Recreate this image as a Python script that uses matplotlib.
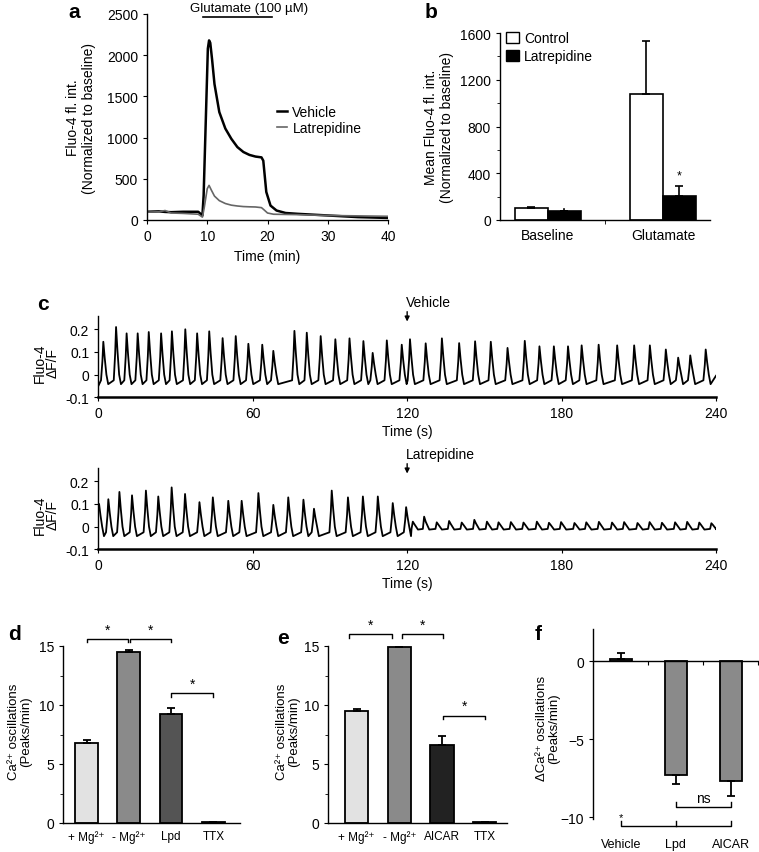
import matplotlib
matplotlib.use('Agg')
import matplotlib.pyplot as plt
from matplotlib.lines import Line2D
from matplotlib.patches import Patch
from matplotlib.ticker import MultipleLocator

plt.rcParams['font.family'] = ['Liberation Sans', 'DejaVu Sans']
plt.rcParams['font.size'] = 10
plt.rcParams['axes.linewidth'] = 1.0
plt.rcParams['xtick.major.size'] = 3
plt.rcParams['ytick.major.size'] = 3
plt.rcParams['xtick.minor.size'] = 2
plt.rcParams['ytick.minor.size'] = 2

# ---------------- data ----------------
# a: Fluo-4 time course (min)
a_time_veh = [0, 2, 3, 4, 6, 8.5, 9.2, 9.4, 10.1, 10.3, 10.5, 10.8, 11.2, 12, 13, 14, 15, 16,
              17, 18, 19, 19.3, 19.8, 20.5, 21.5, 23, 25, 30, 35, 40]
a_vehicle = [100, 105, 98, 95, 100, 100, 55, 300, 2080, 2180, 2150, 1950, 1650, 1310, 1110,
             985, 885, 825, 790, 770, 760, 720, 340, 175, 115, 85, 75, 55, 35, 25]
a_time_lat = [0, 2, 3, 4, 6, 8.5, 9.2, 9.5, 10.0, 10.3, 10.7, 11.2, 12, 13, 14, 15, 16, 17,
              18, 19, 19.4, 20, 21, 25, 30, 35, 40]
a_latrepidine = [95, 100, 115, 85, 80, 70, 35, 150, 380, 420, 360, 290, 235, 200, 180, 170,
                 163, 160, 158, 150, 125, 85, 70, 65, 55, 50, 45]

# b: mean Fluo-4
b_groups = ['Baseline', 'Glutamate']
b_control = [100, 1080]
b_control_err = [8, 450]
b_latre = [80, 208]
b_latre_err = [10, 86]

# c: Ca2+ oscillation peaks (time s, dF/F)
veh_peak_t = [1.95, 6.9, 11.0, 15.3, 19.6, 24.4, 28.6, 33.8, 38.4, 43.1, 48.3, 53.4, 58.3,
              63.7, 68.0, 76.2, 81.0, 86.4, 92.1, 97.6, 103.0, 106.6, 112.1, 117.9, 121.1,
              127.2, 133.5, 140.2, 146.4, 152.5, 159.0, 165.7, 171.4, 177.0, 182.5, 187.8,
              194.4, 201.6, 208.2, 214.3, 220.5, 225.3, 230.0, 236.0]
veh_peak_v = [0.145, 0.21, 0.182, 0.182, 0.188, 0.182, 0.191, 0.2, 0.182, 0.191, 0.161, 0.17,
              0.136, 0.132, 0.105, 0.193, 0.185, 0.17, 0.156, 0.16, 0.148, 0.096, 0.151, 0.132,
              0.156, 0.138, 0.16, 0.139, 0.147, 0.145, 0.118, 0.149, 0.125, 0.125, 0.125,
              0.129, 0.132, 0.129, 0.129, 0.129, 0.111, 0.075, 0.085, 0.111]
lat_peak_t = [0.3, 3.9, 8.2, 13.1, 18.5, 23.3, 28.5, 33.7, 39.3, 44.5, 50.5, 55.7, 62.2, 68.0,
              73.8, 79.7, 83.8, 90.7, 97.0, 102.8, 108.6, 114.4, 119.6, 122.2, 126.6, 131.5,
              136.3, 141.2, 146.1, 151.0, 155.5, 160.3, 165.2, 170.4, 175.1, 179.8, 185.0,
              189.6, 194.5, 199.6, 204.3, 209.5, 214.2, 219.0, 224.1, 228.8, 233.5, 238.2]
lat_peak_v = [0.10, 0.121, 0.153, 0.138, 0.159, 0.133, 0.173, 0.144, 0.108, 0.129, 0.114,
              0.114, 0.148, 0.096, 0.129, 0.119, 0.079, 0.159, 0.129, 0.133, 0.133, 0.104,
              0.086, 0.022, 0.044, 0.019, 0.025, 0.018, 0.03, 0.022, 0.019, 0.02, 0.018,
              0.022, 0.017, 0.02, 0.016, 0.019, 0.021, 0.018, 0.02, 0.016, 0.02, 0.017,
              0.019, 0.021, 0.018, 0.015]

# d / e / f bar charts
d_labels = ['+ Mg²⁺', '- Mg²⁺', 'Lpd', 'TTX']
d_values = [6.75, 14.5, 9.25, 0.05]
d_err = [0.3, 0.2, 0.5, 0.0]
d_colors = ['#e2e2e2', '#8a8a8a', '#545454', '#000000']
d_brackets = [(0.0, 0.97, 15.6), (1.03, 2.0, 15.6), (2.0, 3.0, 11.0)]

e_labels = ['+ Mg²⁺', '- Mg²⁺', 'AICAR', 'TTX']
e_values = [9.45, 14.9, 6.6, 0.1]
e_err = [0.25, 0.05, 0.75, 0.0]
e_colors = ['#e2e2e2', '#8a8a8a', '#222222', '#000000']
e_brackets = [(-0.17, 0.82, 16.0), (1.06, 2.03, 16.0), (2.03, 3.01, 9.1)]

f_labels = ['Vehicle', 'Lpd', 'AICAR']
f_values = [0.15, -7.3, -7.7]
f_err = [0.35, 0.55, 0.9]


def build_trace(peak_t, peak_v, start, end):
    """peak 목록으로 칼슘 트레이스 선 만들기"""
    ts, vs = [start[0]], [start[1]]
    for t, v in zip(peak_t, peak_v):
        if v > 0.06:
            pre, trough = -0.025, -0.042
            pts = [(t - 0.9, pre), (t - 0.35, pre + 0.5 * (v - pre)), (t, v),
                   (t + 0.55, 0.5 * v), (t + 1.2, 0.0), (t + 1.9, trough)]
        else:
            pre, trough = -0.01, -0.013
            pts = [(t - 0.5, pre), (t, v), (t + 0.6, 0.5 * v), (t + 2.0, trough)]
        for pt, pv in pts:
            if pt > ts[-1]:
                ts.append(pt)
                vs.append(pv)
    ts.append(end[0])
    vs.append(end[1])
    return ts, vs


W, H = 759, 853
fig = plt.figure(figsize=(W / 100, H / 100), dpi=100)


def add_ax(x0, y0, x1, y1):
    # 픽셀 박스 (left, top, right, bottom) -> figure 좌표
    ax = fig.add_axes([x0 / W, 1 - y1 / H, (x1 - x0) / W, (y1 - y0) / H])
    ax.spines['top'].set_visible(False)
    ax.spines['right'].set_visible(False)
    return ax


def bracket(ax, x0, x1, y, drop, star=None, star_y=None):
    ax.plot([x0, x0, x1, x1], [y - drop, y, y, y - drop], color='k', lw=1.0, clip_on=False)
    if star:
        ax.text((x0 + x1) / 2, star_y, star, ha='center', va='center', fontsize=10)


# ---------------- a ----------------
ax = add_ax(147, 15, 388, 221)
ax.plot(a_time_veh, a_vehicle, color='k', lw=1.8)
ax.plot(a_time_lat, a_latrepidine, color='#666666', lw=1.2)
ax.set_xlim(0, 40)
ax.set_ylim(0, 2500)
ax.set_xticks([0, 10, 20, 30, 40])
ax.set_yticks([0, 500, 1000, 1500, 2000, 2500])
ax.set_xlabel('Time (min)')
ax.xaxis.set_label_coords(0.5, -0.14)
ax.set_ylabel('Fluo-4 fl. int.\n(Normalized to baseline)', linespacing=1.2)
ax.yaxis.set_label_coords(-0.21, 0.5)
ax.plot([9.3, 20.7], [2465, 2465], color='k', lw=1.2, clip_on=False)
ax.text(16.9, 2578, 'Glutamate (100 µM)', ha='center', va='center', fontsize=9.5)
handles = [Line2D([], [], color='k', lw=1.8), Line2D([], [], color='#666666', lw=1.2)]
ax.legend(handles, ['Vehicle', 'Latrepidine'],
          loc='center left', bbox_to_anchor=(0.54, 0.485), frameon=False, handlelength=0.7,
          handletextpad=0.4, labelspacing=0.15, borderpad=0, borderaxespad=0)
fig.text(68 / W, 1 - 13 / H, 'a', fontsize=15, fontweight='bold', va='center', ha='left')

# ---------------- b ----------------
ax = add_ax(500, 34, 710, 221)
w = 0.287
gx = [0, 1]
ax.bar([g - w for g in gx], b_control, width=w, align='edge', color='white', edgecolor='k',
       lw=1.2, yerr=[[0, 0], b_control_err], error_kw=dict(lw=1.2, capsize=3, capthick=1.2))
ax.bar(gx, b_latre, width=w, align='edge', color='black', edgecolor='k', lw=1.2,
       yerr=[[0, 0], [0, b_latre_err[1]]], error_kw=dict(lw=1.2, capsize=3, capthick=1.2))
ax.plot([w / 2, w / 2], [b_latre[0], b_latre[0] + b_latre_err[0]], color='k', lw=1.2)
ax.set_xlim(-0.417, 1.409)
ax.set_ylim(0, 1600)
ax.set_xticks(gx)
ax.set_xticklabels(b_groups)
ax.tick_params(axis='x', length=0, pad=6)
ax.set_xticks([0.5], minor=True)
ax.tick_params(axis='x', which='minor', length=3)
ax.set_yticks([0, 400, 800, 1200, 1600])
ax.yaxis.set_minor_locator(MultipleLocator(200))
ax.text(1 + w / 2, 380, '*', ha='center', va='center', fontsize=9)
ax.set_ylabel('Mean Fluo-4 fl. int.\n(Normalized to baseline)', linespacing=1.2)
ax.yaxis.set_label_coords(-0.22, 0.5)
ax.legend([Patch(facecolor='white', edgecolor='k'), Patch(facecolor='black', edgecolor='k')],
          ['Control', 'Latrepidine'], loc='upper left', bbox_to_anchor=(0.03, 1.01),
          frameon=False, handlelength=0.9, handleheight=0.9, handletextpad=0.4,
          labelspacing=0.3, borderpad=0, borderaxespad=0)
fig.text(425 / W, 1 - 13 / H, 'b', fontsize=15, fontweight='bold', va='center', ha='left')

# ---------------- c ----------------
traces = [
    (build_trace(veh_peak_t, veh_peak_v, (0, -0.05), (240, -0.005)), 316.7, 398.3, 'Vehicle'),
    (build_trace(lat_peak_t, lat_peak_v, (0, 0.09), (240, -0.007)), 468.7, 550.3, 'Latrepidine'),
]
for (tt, vv), top, bottom, label in traces:
    ax = add_ax(98.3, top, 716, bottom)
    ax.plot(tt, vv, color='k', lw=1.3)
    ax.set_xlim(0, 240)
    ax.set_ylim(-0.1, 0.26)
    ax.set_xticks([0, 60, 120, 180, 240])
    ax.set_yticks([-0.1, 0, 0.1, 0.2])
    ax.set_yticklabels(['-0.1', '0', '0.1', '0.2'])
    ax.spines['bottom'].set_linewidth(1.8)
    ax.set_xlabel('Time (s)')
    ax.xaxis.set_label_coords(0.5, -0.33)
    ax.set_ylabel('Fluo-4\nΔF/F', linespacing=0.95)
    ax.yaxis.set_label_coords(-0.062, 0.43)
    ax.annotate('', xy=(120, 0.222), xytext=(120, 0.29),
                arrowprops=dict(arrowstyle='-|>', lw=1.0, color='k', mutation_scale=7))
    ax.text(119.5, 0.322, label, ha='left', va='center')
fig.text(37 / W, 1 - 305 / H, 'c', fontsize=15, fontweight='bold', va='center', ha='left')


# ---------------- d / e ----------------
def bar_panel(x0, x1, labels, values, err, colors, brackets, letter, letter_xy, ylab_x):
    ax = add_ax(x0, 647, x1, 824)
    xs = list(range(len(values)))
    ax.bar(xs, values, width=0.54, color=colors, edgecolor='k', lw=1.3,
           yerr=[[0] * len(err), err], error_kw=dict(lw=1.3, capsize=3, capthick=1.3))
    ax.set_ylim(0, 15)
    ax.set_yticks([0, 5, 10, 15])
    ax.yaxis.set_minor_locator(MultipleLocator(2.5))
    ax.set_xticks(xs)
    ax.set_xticklabels(labels, fontsize=8.5)
    ax.tick_params(axis='x', length=0, pad=5)
    ax.spines['left'].set_bounds(0, 15)
    for bx0, bx1, by in brackets:
        bracket(ax, bx0, bx1, by, 0.3, '*', by + 0.8)
    ax.set_ylabel('Ca²⁺ oscillations\n(Peaks/min)', linespacing=1.0, fontsize=9.5)
    ax.yaxis.set_label_coords(ylab_x, 0.52)
    fig.text(letter_xy[0] / W, 1 - letter_xy[1] / H, letter, fontsize=15,
             fontweight='bold', va='center', ha='left')
    return ax


ax = bar_panel(63, 240, d_labels, d_values, d_err, d_colors, d_brackets, 'd', (8, 635), -0.175)
ax.set_xlim(-0.556, 3.63)
ax = bar_panel(328, 507, e_labels, e_values, e_err, e_colors, e_brackets, 'e', (277, 639), -0.156)
ax.set_xlim(-0.667, 3.52)

# ---------------- f ----------------
ax = add_ax(593, 630, 758, 820)
xs = list(range(len(f_values)))
err_lo = [e if v < 0 else 0 for v, e in zip(f_values, f_err)]
err_hi = [e if v >= 0 else 0 for v, e in zip(f_values, f_err)]
ax.bar(xs, f_values, width=0.4, color='#8a8a8a', edgecolor='k', lw=1.3,
       yerr=[err_lo, err_hi], error_kw=dict(lw=1.3, capsize=3, capthick=1.3))
ax.set_xlim(-0.511, 2.5)
ax.set_ylim(-10.1, 2.05)
ax.spines['bottom'].set_position(('data', 0))
ax.set_xticks([0.5, 1.5, 2.5])
ax.set_xticklabels([])
ax.tick_params(axis='x', length=3)
ax.set_yticks([-10, -5, 0])
for x, lab in zip(xs, f_labels):
    ax.text(x, -0.13, lab, transform=ax.get_xaxis_transform(), ha='center', va='center',
            fontsize=9)
# ns 비교
ax.plot([1, 1, 2, 2], [-9.0, -9.36, -9.36, -9.0], color='k', lw=1.0, clip_on=False)
ax.text(1.5, -8.75, 'ns', ha='center', va='center', fontsize=10)
# vehicle 대비 비교
ax.plot([0, 0, 2, 2], [-10.25, -10.57, -10.57, -10.25], color='k', lw=1.0, clip_on=False)
ax.plot([1, 1], [-10.25, -10.57], color='k', lw=1.0, clip_on=False)
ax.text(0, -9.95, '*', ha='center', va='center', fontsize=8)
ax.set_ylabel('ΔCa²⁺ oscillations\n(Peaks/min)', linespacing=1.0, fontsize=9.5)
ax.yaxis.set_label_coords(-0.2, 0.48)
fig.text(535 / W, 1 - 635 / H, 'f', fontsize=15, fontweight='bold', va='center', ha='left')

fig.savefig('out.png', dpi=100)
